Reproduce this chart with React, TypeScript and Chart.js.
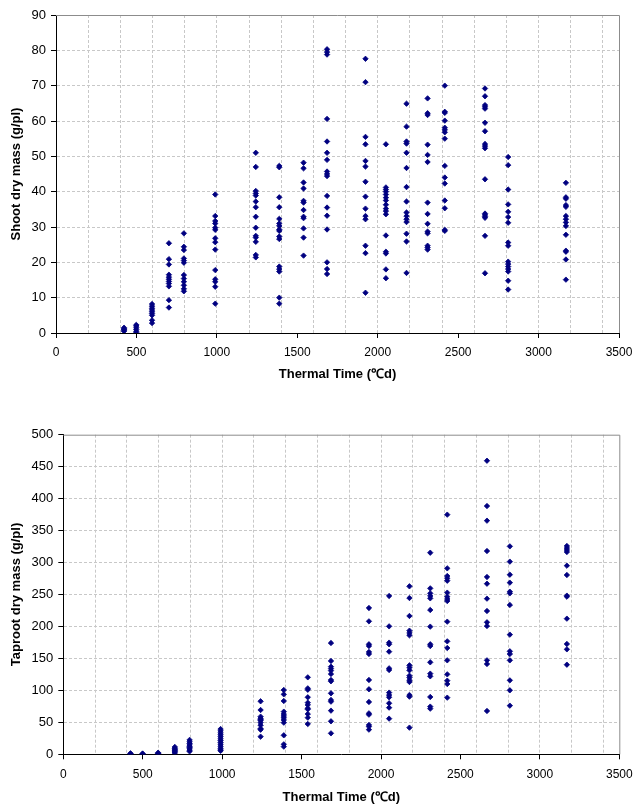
import React, { useEffect, useRef } from "react";
import { Chart, registerables } from "chart.js";

Chart.register(...registerables);

// Thermal time (°Cd) of each sampling date
const thermalTimes = [423, 499, 597, 702, 795, 990, 1242, 1388, 1539, 1685, 1924, 2051, 2179, 2310, 2417, 2667, 2811, 3170];

// Shoot dry mass (g/pl), one array per sampling date
const shoot0423 = [0.5, 0.8, 1.0, 1.2, 1.5];
const shoot0499 = [2.3, 2.0, 1.5, 1.0, 0.5, 0.1];
const shoot0597 = [8.2, 7.6, 7.0, 6.5, 6.0, 5.5, 5.0, 3.6, 2.8];
const shoot0702 = [25.4, 20.9, 19.4, 16.5, 15.8, 15.2, 14.6, 14.0, 13.2, 9.3, 7.2];
const shoot0795 = [28.2, 24.4, 23.5, 21.1, 20.5, 19.9, 16.4, 15.4, 14.5, 13.5, 12.5, 11.8];
const shoot0990 = [39.2, 33.1, 31.7, 31.0, 29.8, 29.2, 26.8, 25.7, 23.6, 17.8, 15.2, 14.5, 13.1, 8.3];
const shoot1242 = [51.0, 47.0, 40.2, 39.5, 38.9, 37.2, 35.6, 32.9, 29.8, 27.5, 27.0, 25.8, 22.1, 21.4];
const shoot1388 = [47.3, 46.9, 38.4, 35.6, 32.3, 31.0, 30.3, 29.3, 28.9, 27.3, 26.6, 18.8, 18.1, 17.4, 10.0, 8.3];
const shoot1539 = [48.2, 46.6, 42.6, 40.9, 37.4, 36.9, 34.8, 32.9, 32.5, 29.6, 27.0, 21.9];
const shoot1685 = [80.3, 79.5, 78.8, 60.6, 54.2, 51.0, 49.0, 45.7, 45.0, 44.4, 38.8, 35.5, 33.2, 29.3, 20.0, 18.1, 16.7];
const shoot1924 = [77.6, 71.0, 55.5, 53.4, 48.7, 47.1, 42.8, 38.6, 35.2, 33.1, 32.2, 24.7, 22.6, 11.4];
const shoot2051 = [53.4, 41.2, 40.6, 40.0, 39.2, 38.3, 37.5, 36.3, 35.2, 34.5, 33.6, 27.6, 23.0, 22.5, 18.0, 15.5];
const shoot2179 = [64.9, 58.4, 54.2, 53.6, 51.0, 46.7, 41.3, 37.2, 34.1, 33.1, 32.2, 31.4, 28.1, 25.9, 17.0];
const shoot2310 = [66.4, 62.2, 61.7, 53.3, 50.4, 48.4, 36.9, 33.7, 30.9, 28.7, 28.2, 24.7, 24.2, 23.6];
const shoot2417 = [70.0, 62.6, 62.3, 60.1, 58.1, 57.5, 56.8, 55.0, 47.3, 44.0, 42.3, 37.5, 35.3, 29.2, 28.9];
const shoot2667 = [69.2, 67.0, 64.5, 64.0, 63.5, 59.5, 57.1, 53.5, 52.9, 52.3, 43.5, 33.8, 33.4, 33.0, 32.6, 27.5, 16.9];
const shoot2811 = [49.8, 47.5, 40.6, 36.4, 34.3, 32.8, 31.2, 25.6, 24.7, 20.2, 19.5, 18.8, 18.1, 17.4, 14.8, 12.3];
const shoot3170 = [42.5, 38.4, 38.0, 36.2, 35.7, 33.1, 32.2, 31.3, 30.3, 27.8, 23.3, 23.0, 20.8, 15.1];

// Taproot dry mass (g/pl), one array per sampling date
const root0423 = [0.3, 0.8, 1.5];
const root0499 = [0.2, 0.6, 1.2];
const root0597 = [0.8, 1.6, 2.5];
const root0702 = [11.5, 9.5, 8.0, 6.5, 5.0, 3.5, 2.0];
const root0795 = [22.5, 19.5, 17.0, 14.5, 12.5, 10.5, 8.5, 6.5, 4.5];
const root0990 = [39.5, 36.5, 33.5, 30.5, 27.5, 24.5, 21.5, 18.5, 15.5, 12.5, 9.5, 7.0, 5.5];
const root1242 = [82.9, 69.3, 58.9, 56.5, 54.5, 52.7, 49.5, 45.4, 40.2, 38.5, 27.6];
const root1388 = [100.6, 93.8, 83.4, 66.7, 63.1, 60.0, 57.0, 53.7, 49.5, 29.7, 15.6, 12.0];
const root1539 = [120.4, 103.2, 101.0, 89.2, 80.8, 77.2, 72.0, 70.4, 63.1, 57.3, 47.4];
const root1685 = [174.1, 146.0, 137.1, 134.0, 130.9, 125.7, 116.3, 114.2, 95.4, 85.0, 82.4, 68.3, 51.6, 32.8];
const root1924 = [228.9, 208.0, 172.1, 169.4, 160.1, 157.0, 116.3, 101.7, 81.9, 64.1, 62.0, 45.9, 43.3, 38.6];
const root2051 = [247.7, 200.2, 174.7, 172.1, 160.6, 134.5, 131.9, 96.5, 92.8, 89.2, 79.8, 73.0, 55.8];
const root2179 = [262.8, 244.5, 216.4, 193.4, 189.8, 186.1, 139.2, 135.6, 131.4, 123.0, 119.9, 115.7, 113.1, 92.8, 90.2, 41.7];
const root2310 = [315.4, 259.6, 251.8, 247.7, 244.0, 225.8, 199.7, 172.1, 169.4, 143.9, 126.2, 122.0, 89.7, 74.6, 71.4];
const root2417 = [374.9, 290.9, 278.9, 275.3, 271.6, 252.9, 246.6, 243.0, 239.8, 207.5, 176.7, 166.3, 147.0, 125.1, 115.2, 110.0, 88.6];
const root2667 = [459.3, 388.4, 365.5, 318.0, 277.4, 266.9, 243.5, 224.2, 206.5, 200.7, 147.0, 141.3, 67.8];
const root2811 = [325.3, 301.4, 281.0, 268.5, 254.4, 251.8, 233.6, 187.2, 161.1, 156.9, 147.0, 115.7, 100.1, 76.1];
const root3170 = [325.9, 322.7, 319.6, 316.5, 295.1, 280.5, 248.2, 246.6, 212.2, 172.6, 164.2, 140.2];

const shootSeries = [shoot0423, shoot0499, shoot0597, shoot0702, shoot0795, shoot0990, shoot1242, shoot1388, shoot1539, shoot1685, shoot1924, shoot2051, shoot2179, shoot2310, shoot2417, shoot2667, shoot2811, shoot3170];
const rootSeries = [root0423, root0499, root0597, root0702, root0795, root0990, root1242, root1388, root1539, root1685, root1924, root2051, root2179, root2310, root2417, root2667, root2811, root3170];

const xTitle = "Thermal Time (\u2103d)";
const shootTitle = "Shoot dry mass (g/pl)";
const rootTitle = "Taproot dry mass (g/pl)";

const FONT = "'Liberation Sans', Arial, sans-serif";

function toPoints(series: number[][]) {
  const pts: { x: number; y: number }[] = [];
  series.forEach((vals, i) => vals.forEach((v) => pts.push({ x: thermalTimes[i], y: v })));
  return pts;
}

const framePlugin = {
  id: "frame",
  beforeDatasetsDraw(chart: any) {
    const { ctx, chartArea: a } = chart;
    ctx.save();
    ctx.strokeStyle = "#8c8c8c";
    ctx.lineWidth = 1;
    ctx.beginPath();
    ctx.moveTo(a.left, a.top + 0.5);
    ctx.lineTo(a.right + 0.5, a.top + 0.5);
    ctx.lineTo(a.right + 0.5, a.bottom);
    ctx.stroke();
    ctx.restore();
  },
};

function makeConfig(
  points: { x: number; y: number }[],
  yMax: number,
  yStep: number,
  yTitle: string,
  yWidth: number,
  xHeight: number,
  padTop: number,
  padRight: number,
  xTitlePadBottom: number
): any {
  return {
    type: "scatter",
    data: {
      datasets: [
        {
          data: points,
          pointStyle: "rectRot",
          pointRadius: 2.7,
          pointBorderWidth: 0.8,
          backgroundColor: "#000080",
          borderColor: "#000080",
        },
      ],
    },
    plugins: [framePlugin],
    options: {
      animation: false,
      responsive: false,
      maintainAspectRatio: false,
      layout: { padding: { top: padTop, right: padRight, left: 0, bottom: 0 } },
      plugins: { legend: { display: false }, tooltip: { enabled: false } },
      scales: {
        x: {
          type: "linear",
          min: 0,
          max: 3500,
          afterBuildTicks: (scale: any) => {
            const t: any[] = [];
            for (let v = 0; v <= 3500; v += 100) t.push({ value: v });
            scale.ticks = t;
          },
          afterFit: (scale: any) => {
            scale.height = xHeight;
          },
          ticks: {
            autoSkip: false,
            maxRotation: 0,
            minRotation: 0,
            padding: 3,
            color: "#000",
            font: { family: FONT, size: 12, lineHeight: 2.0 },
            callback: (v: any) => (Number(v) % 500 === 0 ? String(v) : ""),
          },
          grid: {
            color: (ctx: any) => {
              const v = ctx.tick ? ctx.tick.value : 0;
              return v % 200 === 0 && v > 0 ? "#c8c8c8" : "transparent";
            },
            tickColor: (ctx: any) => {
              const v = ctx.tick ? ctx.tick.value : 0;
              return v % 500 === 0 ? "#000" : "transparent";
            },
            tickLength: 5,
            lineWidth: 1,
          },
          border: { display: true, color: "#000", width: 1, dash: [3, 2] },
          title: {
            display: true,
            text: xTitle,
            color: "#000",
            font: { family: FONT, size: 13, weight: "bold" },
            padding: { top: 0, bottom: xTitlePadBottom },
          },
        },
        y: {
          type: "linear",
          min: 0,
          max: yMax,
          afterFit: (scale: any) => {
            scale.width = yWidth;
          },
          ticks: {
            stepSize: yStep,
            padding: 5,
            color: "#000",
            font: { family: FONT, size: 13 },
          },
          grid: {
            color: (ctx: any) => {
              const v = ctx.tick ? ctx.tick.value : 0;
              return v > 0 && v < yMax ? "#c8c8c8" : "transparent";
            },
            tickColor: "#000",
            tickLength: 5,
            lineWidth: 1,
          },
          border: { display: true, color: "#000", width: 1, dash: [3, 2] },
          title: {
            display: true,
            text: yTitle,
            color: "#000",
            font: { family: FONT, size: 13, weight: "bold" },
            padding: { top: 9, bottom: 0 },
          },
        },
      },
    },
  };
}

function ChartCanvas(props: { config: any; top: number; height: number }) {
  const ref = useRef<HTMLCanvasElement | null>(null);
  useEffect(() => {
    if (!ref.current) return;
    const chart = new Chart(ref.current, props.config);
    return () => chart.destroy();
  }, []);
  return (
    <canvas
      ref={ref}
      width={637}
      height={props.height}
      style={{ position: "absolute", left: 0, top: props.top, width: 637, height: props.height }}
    />
  );
}

export default function App() {
  const topCfg = makeConfig(toPoints(shootSeries), 90, 10, shootTitle, 56, 390 - 333, 15, 637 - 619, 8);
  const botCfg = makeConfig(toPoints(rootSeries), 500, 50, rootTitle, 63.3, 411 - 359.3, 39.7, 637 - 619.3, 1);
  return (
    <div style={{ position: "absolute", left: 0, top: 0, width: 637, height: 806, background: "#fff" }}>
      <ChartCanvas config={topCfg} top={0} height={390} />
      <ChartCanvas config={botCfg} top={395} height={411} />
    </div>
  );
}
